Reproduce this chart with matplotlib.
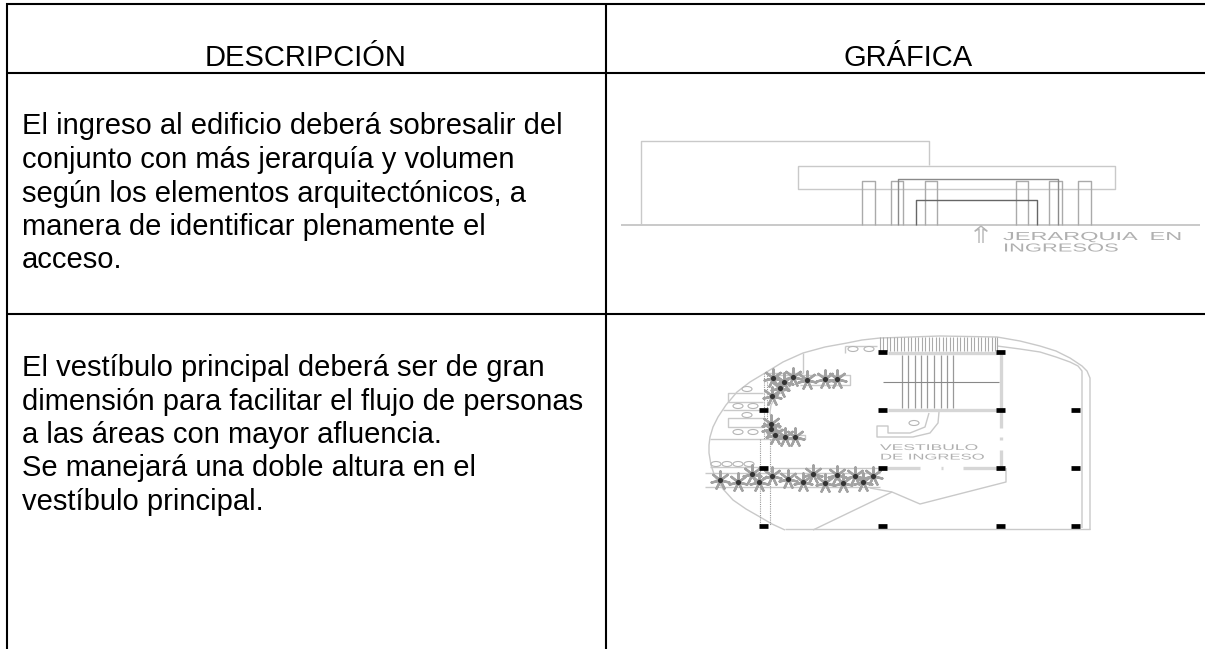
import matplotlib

matplotlib.use("Agg")
import matplotlib.patheffects as pe
import matplotlib.pyplot as plt
from matplotlib.patches import Ellipse
from matplotlib.transforms import Affine2D

# textos de la tabla
encabezados = ["DESCRIPCIÓN", "GRÁFICA"]
fila1 = [
    "El ingreso al edificio deberá sobresalir del",
    "conjunto con más jerarquía y volumen",
    "según los elementos arquitectónicos, a",
    "manera de identificar plenamente el",
    "acceso.",
]
fila2 = [
    "El vestíbulo principal deberá ser de gran",
    "dimensión para facilitar el flujo de personas",
    "a las áreas con mayor afluencia.",
    "Se manejará una doble altura en el",
    "vestíbulo principal.",
]
base_fila1 = [133.5, 168, 201.5, 235, 268]
base_fila2 = [376, 410, 443, 476.5, 510]

# alzado (pixeles de la imagen)
suelo = [(621, 224.5), (1200, 224.5)]
volumen = [(641, 224.5), (641, 141), (929, 141), (929, 165)]
marquesina = [(798, 166), (1115, 166), (1115, 188.5), (798, 188.5), (798, 166)]
columnas_x = [(862, 875), (891, 903), (925, 937), (1016, 1028), (1049, 1062), (1078, 1091)]
marco = [(898, 224.5), (898, 179), (1058, 179), (1058, 224.5)]
puerta = [(916, 224.5), (916, 199.5), (1037, 199.5), (1037, 224.5)]
flecha = [(979, 243), (979, 229), (975, 231), (981, 226), (987, 231), (983, 229), (983, 243)]

# planta
curva = [(880, 338), (862, 340), (847, 343), (825, 347), (803, 353), (783, 362), (765, 373),
         (750, 382), (737, 392), (726, 405), (718, 417), (713, 427), (710, 437), (709, 445),
         (709, 453), (711, 465), (715, 477), (723, 489), (733, 500), (746, 509), (760, 517),
         (772, 524), (785, 530)]
curva_der = [(880, 338), (940, 336), (997, 337), (1020, 341), (1040, 346), (1056, 351),
             (1070, 358), (1082, 366), (1087, 371), (1090, 378), (1090, 530)]
curva_der2 = [(997, 346), (1020, 349), (1040, 352), (1056, 357), (1070, 362), (1078, 366),
              (1082, 371), (1082, 528)]
lineas_claras = [
    [(785, 529), (1090, 529)],
    [(803, 353), (803, 373)],
    [(767, 373), (803, 373)],
    [(710, 439), (770, 439)],
    [(710, 467), (760, 467)],
    [(723, 410), (760, 410)],
    [(770, 468), (887, 468)],
    [(705, 473), (880, 473)],
    [(705, 487), (880, 487)],
    [(767, 375), (850, 375), (850, 385), (800, 385)],
    [(770, 435), (805, 435), (805, 439), (770, 439)],
    [(790, 388), (777, 395), (771, 405), (770, 412), (771, 419), (777, 427), (788, 433)],
    [(728, 402), (728, 393), (763, 393)],
    [(728, 402), (763, 402)],
    [(763, 418), (728, 418), (728, 427), (763, 427)],
    [(845, 346), (877, 346)],
    [(845, 353), (845, 346)],
    [(1006, 468), (1006, 482), (920, 504), (892, 492), (870, 488)],
    [(892, 492), (813, 530)],
    [(939, 412), (938, 423), (930, 433), (913, 437), (877, 437), (877, 426), (888, 426),
     (888, 433), (910, 433), (925, 427), (929, 413)],
]
bandas = [
    [(888, 353), (997, 353)],
    [(888, 410), (997, 410)],
    [(1001, 353), (1001, 428)],
    [(1001, 450), (1001, 467)],
    [(1001, 437), (1001, 440)],
    [(887, 468), (920, 468)],
    [(941, 468), (943, 468)],
    [(963, 468), (997, 468)],
]
muros_punteados = [
    [(760, 439), (760, 525)],
    [(770, 439), (770, 525)],
    [(764, 373), (764, 439)],
    [(767, 373), (767, 439)],
]
peldanos_x = [902, 908, 915, 921, 927, 934, 941, 947, 953]
peldanos_y = (355, 408)
eje_escalera = [(883, 382), (999, 382)]
rayado_x = [880, 883, 887, 890, 894, 897, 901, 904, 908, 911, 915, 918, 922, 925, 929, 932,
            936, 939, 943, 946, 950, 953, 957, 960, 964, 967, 971, 974, 978, 981, 985, 988,
            992, 995, 997]
rayado_y = (337, 351)
pilares_x = [763, 882, 1000, 1075]
pilares_y = [352, 410, 468, 526]
sin_pilar = [(763, 352), (1075, 352)]
sillas = [(747, 389), (738, 406), (753, 406), (747, 415), (738, 432), (753, 432), (716, 464),
          (727, 464), (738, 464), (749, 464), (853, 349), (869, 349), (914, 423)]
plantas = [(773, 378), (784, 382), (793, 377), (807, 380), (825, 379), (837, 379), (780, 388),
           (772, 396), (771, 424), (771, 429), (775, 435), (785, 437), (795, 437), (720, 480),
           (738, 482), (752, 474), (759, 482), (772, 476), (788, 479), (803, 482), (813, 474),
           (825, 483), (837, 475), (843, 483), (855, 476), (863, 482), (873, 476)]

NEGRO = "#000000"
GRIS = "#c9c9c9"
GRIS_OSC = "#8a8a8a"


class Estirar(pe.AbstractPathEffect):
    # las letras de CAD son mas anchas que cualquier fuente instalada
    def __init__(self, sx):
        super().__init__()
        self.sx = sx

    def draw_path(self, renderer, gc, tpath, affine, rgbFace=None):
        renderer.draw_path(gc, tpath, Affine2D().scale(self.sx, 1) + affine, rgbFace)


def trazo(ax, puntos, color=GRIS, lw=1.0, **kw):
    xs = [p[0] for p in puntos]
    ys = [p[1] for p in puntos]
    ax.plot(xs, ys, color=color, lw=lw, solid_capstyle="butt", **kw)


def texto_cad(ax, x, y, s, size, sx):
    ax.text(x, y, s, fontsize=size, color="#b0b0b0", family="Liberation Sans", va="baseline",
            path_effects=[Estirar(sx)])


plt.rcParams["font.family"] = ["Liberation Sans", "DejaVu Sans"]
fig = plt.figure(figsize=(12.05, 6.49), dpi=100)
ax = fig.add_axes([0, 0, 1, 1])
ax.set_xlim(0, 1205)
ax.set_ylim(649, 0)
ax.axis("off")

# tabla
ax.hlines([4, 72.5, 313.5], 6, 1205, color=NEGRO, lw=1.5)
ax.vlines([7, 605.5], 3, 649, color=NEGRO, lw=1.5)

ax.text(306, 66, encabezados[0], fontsize=21, ha="center", va="baseline")
ax.text(908, 66, encabezados[1], fontsize=21, ha="center", va="baseline")
for linea, y in zip(fila1, base_fila1):
    ax.text(22, y, linea, fontsize=21, va="baseline")
for linea, y in zip(fila2, base_fila2):
    ax.text(22, y, linea, fontsize=21, va="baseline")

# alzado
trazo(ax, suelo, lw=1.4)
trazo(ax, volumen)
trazo(ax, marquesina)
for x0, x1 in columnas_x:
    trazo(ax, [(x0, 224.5), (x0, 180.5), (x1, 180.5), (x1, 224.5)], color="#aaaaaa")
trazo(ax, marco, color=GRIS_OSC)
trazo(ax, puerta, color="#666666")
trazo(ax, flecha, color="#b5b5b5")
texto_cad(ax, 1003, 240, "JERARQUIA  EN", 8.35, 2.03)
texto_cad(ax, 1003, 251.5, "INGRESOS", 8.35, 1.89)

# planta
trazo(ax, curva)
trazo(ax, curva_der)
trazo(ax, curva_der2)
for l in lineas_claras:
    trazo(ax, l)
for l in bandas:
    trazo(ax, l, color="#d6d6d6", lw=2.4)
for l in muros_punteados:
    trazo(ax, l, color="#999999", lw=0.8, ls=(0, (1, 1)))
ax.vlines(peldanos_x, peldanos_y[0], peldanos_y[1], color="#999999", lw=0.9)
trazo(ax, eje_escalera, color="#888888", lw=0.8)
ax.vlines(rayado_x, rayado_y[0], rayado_y[1], color="#aaaaaa", lw=0.8)
texto_cad(ax, 880, 450, "VESTIBULO", 6, 2.1)
texto_cad(ax, 880, 459.5, "DE INGRESO", 6, 2.0)

for x, y in sillas:
    ax.add_patch(Ellipse((x, y), 10, 5, facecolor="white", edgecolor="#b5b5b5", lw=0.8, zorder=3))
ax.scatter([p[0] for p in plantas], [p[1] for p in plantas], s=170, marker=(7, 2, 0),
           color="#a2a2a2", linewidth=1.7, zorder=3)
ax.scatter([p[0] for p in plantas], [p[1] for p in plantas], s=14, marker="o", color="#333333",
           linewidth=0, zorder=4)

for x in pilares_x:
    for y in pilares_y:
        if (x, y) not in sin_pilar:
            ax.plot([x - 4.5, x + 4.5], [y, y], color=NEGRO, lw=3.4, solid_capstyle="butt", zorder=5)

fig.savefig("out.png", dpi=100)
